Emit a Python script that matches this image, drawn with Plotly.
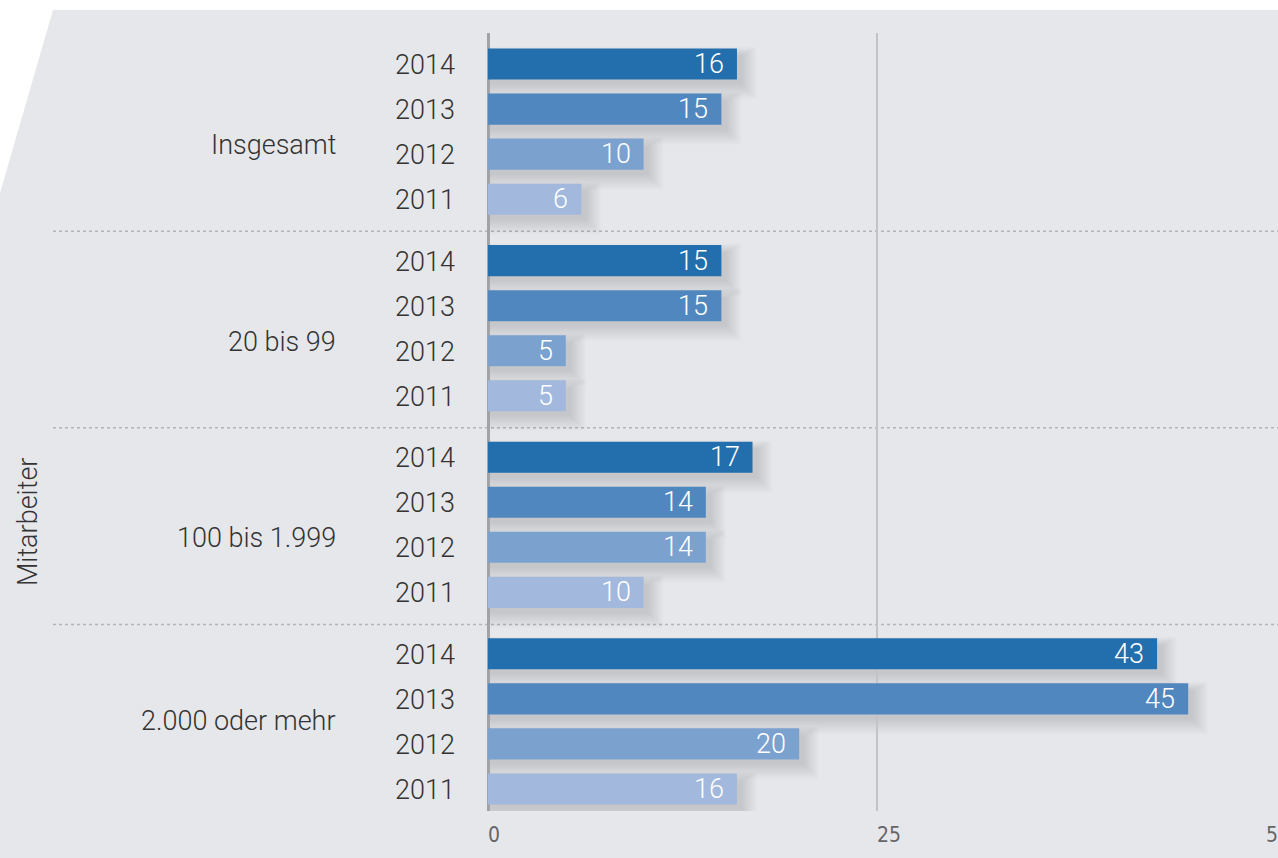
import plotly.graph_objects as go

# --- data -------------------------------------------------------------
groups = ["Insgesamt", "20 bis 99", "100 bis 1.999", "2.000 oder mehr"]
years = ["2014", "2013", "2012", "2011"]
values = {
    "2014": [16, 15, 17, 43],
    "2013": [15, 15, 14, 45],
    "2012": [10, 5, 14, 20],
    "2011": [6, 5, 10, 16],
}
x_ticks = [0, 25, 50]
axis_title = "Mitarbeiter"

# --- styling / layout --------------------------------------------------
colors = {"2014": "#236fad", "2013": "#5187bf", "2012": "#7ba1cf", "2011": "#a2b8dc"}
FONT = "Roboto"
TXT = "#333333"
W, H = 1278, 858
ML, MR, MT, MB = 488, 12, 33, 47
PW, PH = W - ML - MR, H - MT - MB
GROUP_STEP = 4.363          # rows per group incl. gap
BAR_H = 0.69
Y_MIN, Y_MAX = -0.689, 3 * GROUP_STEP + 3 + 0.489
X_MAX = 50
px_x = PW / X_MAX                 # pixels per value unit
px_y = PH / (Y_MAX - Y_MIN)       # pixels per row unit
label_dy = [0.3, 0.3, 0.3, 0.0]   # vertical nudge of group labels (rows)


def px_to_paper(px, py):
    return (px - ML) / PW, (H - MB - py) / PH


def pos(g, r):
    return g * GROUP_STEP + r


fig = go.Figure()

# bars, one trace per year
for r, yr in enumerate(years):
    fig.add_trace(go.Bar(
        orientation="h",
        x=values[yr],
        y=[pos(g, r) for g in range(len(groups))],
        width=BAR_H,
        marker=dict(color=colors[yr], line=dict(width=0)),
        hoverinfo="skip",
        showlegend=False,
    ))

shapes = []

# grey background panel with slanted left edge
pts = [(53, 10), (W, 10), (W, H), (0, H), (0, 193)]
path = "M " + " L ".join(f"{px_to_paper(a, b)[0]:.5f},{px_to_paper(a, b)[1]:.5f}" for a, b in pts) + " Z"
shapes.append(dict(type="path", path=path, xref="paper", yref="paper",
                   fillcolor="#e6e7eb", line=dict(width=0), layer="below"))

# soft drop shadows under the bars (stacked translucent layers)
N_LAYERS = 16
for r, yr in enumerate(years):
    for g in range(len(groups)):
        v = values[yr][g]
        y = pos(g, r)
        for k in range(N_LAYERS):
            spread = 16 - k * 1.0          # outer layers first, widest
            shapes.append(dict(
                type="rect", xref="x", yref="y", layer="below",
                x0=0, x1=v + (4 + spread) / px_x,
                y0=y - BAR_H / 2 + (8 - spread * 0.6) / px_y,
                y1=y + BAR_H / 2 + (4 + spread) / px_y,
                fillcolor="rgba(80,80,90,0.011)", line=dict(width=0),
            ))

# dotted separators between groups
sx0 = px_to_paper(53, 0)[0]
sx1 = px_to_paper(W, 0)[0]
for g in range(1, len(groups)):
    ysep = (pos(g - 1, 3) + pos(g, 0)) / 2 + 0.03
    shapes.append(dict(type="line", xref="paper", yref="y", x0=sx0, x1=sx1,
                       y0=ysep, y1=ysep, layer="below",
                       line=dict(color="#b4b4b8", width=1.5, dash="dot")))

annotations = []
# value labels inside bar ends
for r, yr in enumerate(years):
    for g in range(len(groups)):
        v = values[yr][g]
        annotations.append(dict(x=v, y=pos(g, r), xref="x", yref="y", text=str(v),
                                xanchor="right", yanchor="middle", xshift=-11, yshift=0,
                                showarrow=False,
                                font=dict(family=FONT, size=27, color="white", weight=300)))
# year labels
for r, yr in enumerate(years):
    for g in range(len(groups)):
        annotations.append(dict(x=0, y=pos(g, r), xref="x", yref="y", text=yr,
                                xanchor="right", yanchor="middle", xshift=-31, yshift=-1,
                                showarrow=False,
                                font=dict(family=FONT, size=27, color=TXT, weight=300)))
# group labels
for g, name in enumerate(groups):
    annotations.append(dict(x=0, y=pos(g, 1.5) + label_dy[g], xref="x", yref="y", text=name,
                            xanchor="right", yanchor="middle", xshift=-150,
                            showarrow=False,
                            font=dict(family=FONT, size=27, color=TXT, weight=300)))
# x tick labels, left-aligned at the tick
for t in x_ticks:
    annotations.append(dict(x=t, y=0, xref="x", yref="paper", text=str(t),
                            xanchor="left", yanchor="top", xshift=-2, yshift=-10,
                            showarrow=False,
                            font=dict(family="DejaVu Sans Condensed, Liberation Sans Narrow, Roboto",
                                      size=21, color="#666666")))
# vertical axis title
ax, ay = px_to_paper(28, 522)
annotations.append(dict(x=ax, y=ay, xref="paper", yref="paper", text=axis_title,
                        textangle=-90, showarrow=False, xanchor="center", yanchor="middle",
                        font=dict(family=FONT, size=27, color=TXT, weight=300)))

fig.update_layout(
    width=W, height=H,
    margin=dict(l=ML, r=MR, t=MT, b=MB, pad=0),
    paper_bgcolor="white",
    plot_bgcolor="rgba(0,0,0,0)",
    barmode="overlay",
    shapes=shapes,
    annotations=annotations,
    xaxis=dict(range=[0, X_MAX], tickvals=x_ticks, showticklabels=False,
               showgrid=True, gridcolor="#c3c3c6", gridwidth=2,
               zeroline=True, zerolinecolor="#a3a3a6", zerolinewidth=3,
               showline=False, fixedrange=True),
    yaxis=dict(range=[Y_MAX, Y_MIN], showticklabels=False, showgrid=False,
               zeroline=False, showline=False, fixedrange=True),
)

fig.write_html("out.html")
